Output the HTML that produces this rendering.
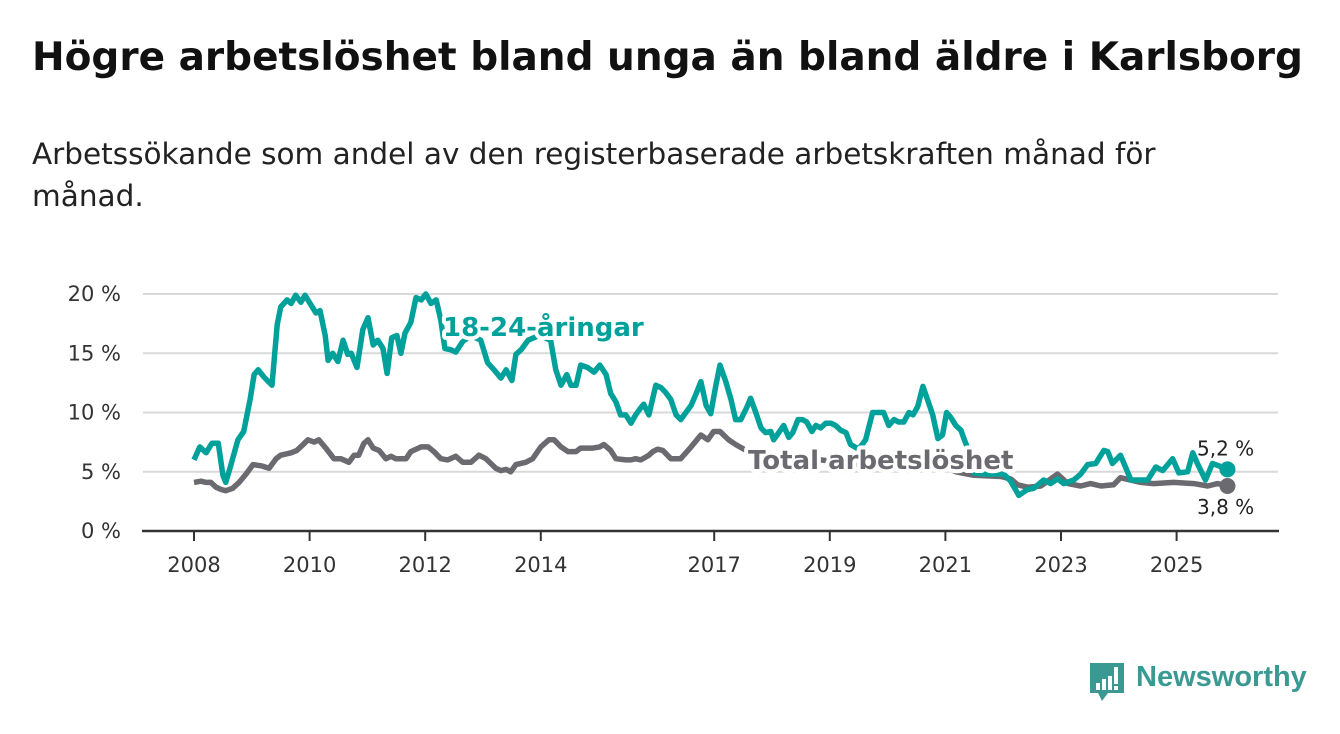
<!DOCTYPE html>
<html><head><meta charset="utf-8">
<style>
html,body{margin:0;padding:0;background:#fff;}
body{width:1340px;height:734px;overflow:hidden;position:relative;font-family:"DejaVu Sans","Liberation Sans",sans-serif;color:#111;}
h1{position:absolute;left:32px;top:35px;margin:0;font-size:39px;font-weight:bold;white-space:nowrap;}
.sub{position:absolute;left:32px;top:133px;width:1220px;margin:0;font-size:29.5px;line-height:42px;color:#222;}
svg{position:absolute;left:0;top:0;}
.logo{position:absolute;left:1088px;top:661px;}
.logo-text{position:absolute;left:1136px;top:661px;font-family:"Liberation Sans",sans-serif;font-size:29px;font-weight:bold;color:#3a9a93;}
</style></head>
<body>
<h1>Högre arbetslöshet bland unga än bland äldre i Karlsborg</h1>
<p class="sub">Arbetssökande som andel av den registerbaserade arbetskraften månad för månad.</p>
<svg id="chart" width="1340" height="734"></svg>
<svg class="logo" width="40" height="44">
<path d="M2 2 H36 V32 H20 L14 40 L10 32 H2 Z" fill="#3a9a93"/>
<rect x="8" y="22" width="4" height="7" fill="#fff"/><rect x="14" y="18" width="4" height="11" fill="#fff"/><rect x="20" y="15" width="4" height="14" fill="#fff"/><rect x="26" y="6" width="4" height="17" fill="#fff"/><rect x="26" y="25" width="4" height="4" fill="#fff"/>
</svg>
<div class="logo-text">Newsworthy</div>
<script>
const yTicks=[0,5,10,15,20];
const yTickLabels=["0 %","5 %","10 %","15 %","20 %"];
const xTicks=[2008,2010,2012,2014,2017,2019,2021,2023,2025];
const youngDates=[2008.00,2008.10,2008.21,2008.31,2008.42,2008.50,2008.55,2008.64,2008.76,2008.86,2008.97,2009.04,2009.11,2009.21,2009.35,2009.44,2009.50,2009.61,2009.68,2009.76,2009.85,2009.92,2010.02,2010.11,2010.18,2010.27,2010.32,2010.40,2010.49,2010.58,2010.66,2010.72,2010.82,2010.92,2011.01,2011.10,2011.18,2011.27,2011.34,2011.42,2011.51,2011.58,2011.65,2011.75,2011.84,2011.93,2012.01,2012.10,2012.19,2012.27,2012.34,2012.44,2012.53,2012.65,2012.79,2012.96,2013.08,2013.19,2013.31,2013.40,2013.50,2013.57,2013.66,2013.78,2013.97,2014.17,2014.26,2014.35,2014.45,2014.52,2014.61,2014.69,2014.81,2014.92,2015.02,2015.13,2015.21,2015.30,2015.38,2015.47,2015.56,2015.64,2015.73,2015.78,2015.87,2015.99,2016.08,2016.16,2016.25,2016.34,2016.42,2016.51,2016.60,2016.68,2016.77,2016.86,2016.94,2017.03,2017.10,2017.20,2017.29,2017.37,2017.46,2017.56,2017.63,2017.72,2017.81,2017.89,2017.98,2018.03,2018.13,2018.20,2018.29,2018.36,2018.45,2018.53,2018.60,2018.69,2018.76,2018.84,2018.93,2019.02,2019.10,2019.19,2019.28,2019.36,2019.50,2019.62,2019.74,2019.83,2019.93,2020.02,2020.11,2020.19,2020.28,2020.37,2020.44,2020.52,2020.61,2020.69,2020.78,2020.87,2020.95,2021.02,2021.09,2021.18,2021.27,2021.32,2021.40,2021.49,2021.70,2022.01,2022.13,2022.27,2022.42,2022.53,2022.70,2022.82,2022.94,2023.05,2023.22,2023.34,2023.46,2023.60,2023.74,2023.81,2023.89,2024.03,2024.21,2024.50,2024.64,2024.76,2024.93,2025.04,2025.19,2025.28,2025.36,2025.50,2025.62,2025.73,2025.88];
const youngValues=[6.0,7.1,6.6,7.4,7.4,4.7,4.1,5.6,7.7,8.4,11.1,13.2,13.6,13.0,12.3,17.4,18.9,19.5,19.2,19.9,19.3,19.9,19.1,18.4,18.6,16.5,14.4,15.0,14.3,16.1,14.9,15.0,13.8,17.0,18.0,15.7,16.1,15.4,13.3,16.3,16.5,15.0,16.7,17.6,19.7,19.5,20.0,19.2,19.5,17.8,15.4,15.3,15.1,16.0,16.5,16.1,14.2,13.6,12.9,13.6,12.7,14.9,15.3,16.1,16.5,16.1,13.6,12.3,13.2,12.3,12.3,14.0,13.8,13.4,14.0,13.2,11.6,10.9,9.8,9.8,9.1,9.8,10.4,10.7,9.8,12.3,12.1,11.7,11.1,9.8,9.4,10.0,10.6,11.5,12.6,10.6,9.9,12.3,14.0,12.6,11.1,9.4,9.4,10.4,11.2,10.0,8.7,8.3,8.4,7.7,8.4,8.9,7.9,8.3,9.4,9.4,9.2,8.4,8.9,8.7,9.1,9.1,8.9,8.5,8.3,7.3,6.9,7.7,10.0,10.0,10.0,8.9,9.4,9.2,9.2,10.0,9.8,10.5,12.2,11.1,9.8,7.8,8.1,10.0,9.6,8.9,8.5,7.8,6.8,4.9,4.8,4.8,4.2,3.0,3.5,3.6,4.3,4.0,4.4,4.0,4.3,4.8,5.6,5.7,6.8,6.7,5.7,6.4,4.3,4.3,5.4,5.1,6.1,4.9,5.0,6.6,5.7,4.3,5.7,5.5,5.2];
const totalDates=[2008.00,2008.12,2008.21,2008.29,2008.38,2008.47,2008.55,2008.67,2008.78,2008.90,2009.02,2009.16,2009.30,2009.42,2009.50,2009.68,2009.78,2009.89,2009.97,2010.08,2010.16,2010.28,2010.42,2010.54,2010.68,2010.77,2010.85,2010.94,2011.01,2011.10,2011.20,2011.32,2011.41,2011.49,2011.67,2011.75,2011.93,2012.05,2012.15,2012.27,2012.39,2012.53,2012.65,2012.79,2012.93,2013.05,2013.22,2013.31,2013.40,2013.48,2013.57,2013.74,2013.86,2014.00,2014.14,2014.23,2014.35,2014.47,2014.61,2014.69,2014.78,2014.90,2015.02,2015.09,2015.21,2015.30,2015.47,2015.56,2015.64,2015.73,2015.87,2015.94,2016.02,2016.11,2016.25,2016.42,2016.60,2016.77,2016.89,2016.99,2017.10,2017.25,2017.37,2017.55,2017.81,2018.15,2018.50,2018.84,2019.19,2019.54,2019.88,2020.23,2020.57,2020.92,2021.18,2021.49,2021.96,2022.13,2022.25,2022.42,2022.65,2022.94,2023.12,2023.34,2023.51,2023.69,2023.91,2024.03,2024.38,2024.60,2024.95,2025.30,2025.54,2025.71,2025.88];
const totalValues=[4.1,4.2,4.1,4.1,3.7,3.5,3.4,3.6,4.1,4.8,5.6,5.5,5.3,6.1,6.4,6.6,6.8,7.3,7.7,7.5,7.7,7.0,6.1,6.1,5.8,6.4,6.4,7.4,7.7,7.0,6.8,6.1,6.3,6.1,6.1,6.7,7.1,7.1,6.7,6.1,6.0,6.3,5.8,5.8,6.4,6.1,5.3,5.1,5.2,5.0,5.6,5.8,6.1,7.1,7.7,7.7,7.1,6.7,6.7,7.0,7.0,7.0,7.1,7.3,6.8,6.1,6.0,6.0,6.1,6.0,6.4,6.7,6.9,6.8,6.1,6.1,7.1,8.1,7.7,8.4,8.4,7.7,7.3,6.8,6.5,6.3,6.0,6.0,5.8,5.6,5.8,5.7,5.9,5.6,5.0,4.7,4.6,4.4,3.9,3.7,3.8,4.8,4.0,3.8,4.0,3.8,3.9,4.5,4.1,4.0,4.1,4.0,3.8,4.0,3.8];

const NS='http://www.w3.org/2000/svg';
const svg=document.getElementById('chart');
const X0=194, PXY=57.8, Y0=531, PXV=11.85;
const xs=y=>X0+(y-2008)*PXY;
const ys=v=>Y0-v*PXV;
function mk(tag,attrs,parent){const e=document.createElementNS(NS,tag);for(const k in attrs)e.setAttribute(k,attrs[k]);(parent||svg).appendChild(e);return e;}

yTicks.forEach((t,i)=>{
  if(t>0){const g=mk('line',{x1:143,x2:1278,y1:ys(t),y2:ys(t),stroke:'#d9d9d9','stroke-width':2});
  
  }
  const l=mk('text',{x:121,y:ys(t)+7,'text-anchor':'end','font-size':21,fill:'#333'});
  l.textContent=yTickLabels[i];
  
  
});
const ax=mk('line',{x1:142,x2:1279,y1:Y0,y2:Y0,stroke:'#333','stroke-width':2.5});


xTicks.forEach(t=>{
  mk('line',{x1:xs(t),x2:xs(t),y1:Y0,y2:Y0+10,stroke:'#333','stroke-width':2});
  const l=mk('text',{x:xs(t),y:572,'text-anchor':'middle','font-size':21,fill:'#333'});
  l.textContent=String(t);
  
  
});
function path(d,v){return d.map((y,i)=>(i?'L':'M')+xs(y).toFixed(1)+' '+ys(v[i]).toFixed(1)).join(' ');}
const pt=mk('path',{d:path(totalDates,totalValues),fill:'none',stroke:'#6b6a70','stroke-width':5.5,'stroke-linejoin':'round'});


const py=mk('path',{d:path(youngDates,youngValues),fill:'none',stroke:'#00a19a','stroke-width':5.5,'stroke-linejoin':'round'});



const lt=mk('text',{x:748,y:469,'font-size':26,'font-weight':'bold',fill:'#6b6a70',stroke:'#fff','stroke-width':8,'paint-order':'stroke','stroke-linejoin':'round'});
lt.textContent='Total arbetslöshet';


const ly=mk('text',{x:443,y:336,'font-size':26,'font-weight':'bold',fill:'#00a19a',stroke:'#fff','stroke-width':8,'paint-order':'stroke','stroke-linejoin':'round'});
ly.textContent='18-24-åringar';



const ty=youngDates[youngDates.length-1], vy=youngValues[youngValues.length-1];
const tt=totalDates[totalDates.length-1], vt=totalValues[totalValues.length-1];
const d1=mk('circle',{cx:xs(ty),cy:ys(vy),r:8,fill:'#00a19a'});


const d2=mk('circle',{cx:xs(tt),cy:ys(vt),r:8,fill:'#6b6a70'});


const e1=mk('text',{x:1197,y:ys(vy)-14,'font-size':20,fill:'#222'});
e1.textContent=vy.toFixed(1).replace('.',',')+' %';


const e2=mk('text',{x:1197,y:ys(vt)+28,'font-size':20,fill:'#222'});
e2.textContent=vt.toFixed(1).replace('.',',')+' %';


</script>
</body></html>
